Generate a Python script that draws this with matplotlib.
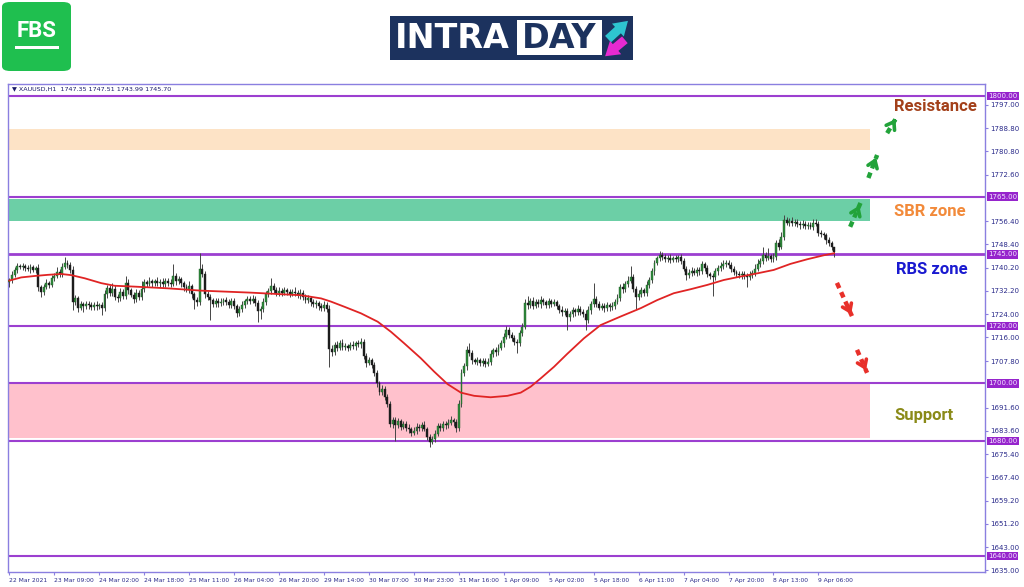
import matplotlib
matplotlib.use("Agg")
import matplotlib.pyplot as plt
from matplotlib.patches import FancyBboxPatch, Rectangle, FancyArrowPatch
import numpy as np

# XAUUSD H1 closes (oldest first)
close = [
    1736.0, 1737.8, 1739.5, 1741.0, 1740.6, 1740.9, 1740.2, 1739.8, 1740.4, 1739.6,
    1740.1, 1733.5, 1731.8, 1733.6, 1735.0, 1734.4, 1736.8, 1737.5, 1738.9, 1738.2,
    1740.6, 1742.0, 1741.2, 1739.5, 1728.5, 1729.8, 1726.4, 1727.5, 1726.9, 1727.8,
    1727.2, 1726.6, 1727.4, 1726.8, 1727.3, 1726.2, 1731.0, 1733.2, 1731.5, 1733.0,
    1730.2, 1729.6, 1731.8, 1730.5, 1735.0, 1732.4, 1730.8, 1729.5, 1731.6, 1730.0,
    1732.8, 1735.2, 1734.6, 1735.5, 1734.8, 1735.7, 1734.9, 1735.4, 1734.5, 1735.8,
    1735.1, 1734.7, 1737.4, 1735.6, 1736.2, 1734.8, 1733.5, 1732.6, 1733.8, 1731.0,
    1729.0, 1728.5, 1740.0, 1738.0, 1731.0, 1730.2, 1729.0, 1727.5, 1728.6, 1727.9,
    1728.3, 1729.0, 1728.2, 1727.4, 1728.8, 1727.0, 1724.5, 1725.8, 1727.4, 1728.6,
    1729.3, 1728.7, 1729.5, 1728.0, 1725.2, 1726.0, 1728.4, 1731.0, 1732.2, 1734.0,
    1732.5, 1731.4, 1732.2, 1731.6, 1732.4, 1731.8, 1731.2, 1732.0, 1731.5, 1730.8,
    1731.6, 1730.2, 1729.0, 1729.6, 1728.3, 1727.5, 1727.9, 1726.8, 1726.2, 1727.4,
    1726.0, 1712.0, 1711.0, 1713.5, 1712.4, 1714.2, 1712.8, 1713.0, 1712.5, 1713.4,
    1712.9, 1714.0, 1713.6, 1714.5, 1709.5, 1707.2, 1708.0, 1706.5, 1703.5, 1700.0,
    1697.0, 1698.2, 1695.4, 1693.0, 1686.0, 1687.2, 1685.5, 1686.8, 1685.0, 1685.8,
    1684.6, 1684.0, 1682.8, 1683.6, 1685.0, 1684.4, 1685.6, 1684.2, 1681.5, 1679.8,
    1680.6, 1682.5, 1685.2, 1684.6, 1686.0, 1685.4, 1686.4, 1687.2, 1686.5, 1684.5,
    1693.0, 1703.6, 1706.0, 1711.7, 1710.5, 1708.2, 1707.5, 1708.0, 1707.2, 1707.8,
    1706.9, 1707.5, 1710.2, 1711.6, 1710.8, 1712.5, 1714.0, 1716.2, 1718.6, 1717.0,
    1715.8, 1714.5, 1714.0, 1717.5, 1719.7, 1728.0, 1727.2, 1728.8, 1727.0, 1728.4,
    1727.6, 1729.0, 1728.2, 1727.4, 1728.6, 1727.8, 1728.2, 1727.0, 1725.6, 1724.8,
    1725.2, 1723.0, 1724.2, 1725.4, 1724.8, 1726.0, 1725.0, 1724.3, 1722.0, 1725.4,
    1727.6, 1729.5, 1727.8, 1726.4, 1726.9, 1726.1, 1727.2, 1726.5, 1727.0, 1728.4,
    1729.6, 1733.6, 1732.8, 1734.5, 1735.8, 1737.0, 1733.0, 1730.0, 1731.2, 1732.4,
    1731.6, 1734.2, 1736.0, 1739.0, 1742.0, 1743.5, 1744.7, 1744.0, 1743.2, 1743.8,
    1743.0, 1743.6, 1743.2, 1743.9, 1742.6, 1740.0, 1737.7, 1738.6, 1739.2, 1738.5,
    1739.4, 1739.0, 1741.5, 1740.2, 1738.0, 1737.4, 1737.0, 1739.0, 1740.2, 1741.0,
    1741.5, 1742.0, 1741.2, 1740.0, 1738.8, 1738.0, 1737.6, 1738.2, 1737.4, 1737.0,
    1737.8, 1738.5, 1740.0, 1741.6, 1742.5, 1744.6, 1743.8, 1744.2, 1743.4, 1744.0,
    1748.8, 1747.6, 1751.0, 1756.8, 1756.0, 1756.6, 1755.8, 1756.2, 1755.4, 1755.0,
    1755.6, 1754.8, 1755.2, 1754.6, 1756.0, 1755.6, 1752.5, 1752.0, 1751.5, 1750.0,
    1748.8, 1747.35, 1745.70,
]
first_open = 1735.2

# wick above max(open, close) and below min(open, close)
wick_up = [
    0.8, 1.2, 0.9, 1.0, 0.7, 1.1, 0.6, 0.9, 1.3, 0.8,
    0.9, 1.5, 0.7, 1.0, 1.4, 0.8, 1.1, 0.9, 1.6, 1.0,
    1.2, 2.0, 1.1, 0.9, 1.4, 1.0, 0.8, 1.3, 0.7, 1.0,
    0.9, 1.1, 0.8, 1.2, 0.7, 1.0, 1.6, 1.2, 0.9, 2.0,
    1.1, 0.8, 1.3, 1.0, 2.5, 1.2, 0.9, 1.1, 1.4, 0.8,
    3.0, 1.2, 0.9, 1.4, 1.0, 0.8, 1.2, 0.9, 1.3, 1.0,
    0.9, 1.2, 4.0, 1.1, 1.3, 0.9, 1.0, 1.2, 2.0, 0.8,
    1.0, 1.1, 5.4, 1.4, 1.0, 1.2, 0.8, 0.9, 1.1, 1.0,
    1.3, 0.8, 1.0, 1.2, 0.9, 1.1, 0.8, 1.0, 1.3, 0.9,
    1.2, 1.0, 1.4, 0.8, 0.9, 1.1, 1.3, 1.2, 1.0, 2.7,
    1.1, 0.9, 1.3, 1.0, 1.2, 0.8, 1.1, 0.9, 1.4, 1.0,
    1.2, 0.9, 1.1, 1.3, 0.8, 1.0, 1.2, 0.9, 1.1, 1.4,
    1.0, 1.2, 1.5, 1.1, 1.4, 0.9, 1.2, 1.0, 0.8, 1.1,
    1.3, 0.9, 1.0, 1.2, 0.8, 1.1, 1.3, 0.9, 1.0, 1.2,
    0.9, 1.4, 1.0, 1.1, 0.8, 1.3, 1.0, 1.2, 0.9, 1.1,
    1.0, 1.2, 0.8, 1.1, 1.3, 0.9, 1.0, 1.2, 0.8, 1.0,
    1.1, 1.3, 0.9, 1.2, 1.0, 0.8, 1.1, 1.4, 0.9, 1.0,
    1.2, 1.5, 1.0, 1.3, 2.3, 1.0, 0.8, 1.2, 0.9, 1.1,
    1.0, 1.2, 1.4, 0.9, 1.1, 1.3, 1.0, 1.2, 1.4, 1.0,
    0.9, 1.1, 1.0, 1.2, 1.3, 1.5, 2.5, 1.0, 1.2, 0.9,
    1.1, 1.3, 0.8, 1.0, 1.2, 0.9, 1.1, 1.0, 0.8, 1.2,
    1.0, 0.9, 1.1, 1.3, 0.8, 1.2, 1.0, 0.9, 1.1, 1.4,
    1.2, 5.5, 1.0, 0.8, 1.1, 1.0, 1.3, 0.9, 1.2, 1.0,
    1.4, 1.1, 1.3, 1.0, 1.5, 4.0, 1.0, 0.9, 1.2, 1.1,
    0.8, 1.3, 1.0, 1.2, 1.1, 1.0, 1.3, 0.9, 1.1, 1.0,
    1.2, 0.8, 1.1, 0.9, 1.0, 1.2, 0.9, 1.1, 1.3, 1.0,
    1.2, 1.0, 1.0, 0.9, 1.1, 0.8, 1.0, 1.2, 1.1, 1.3,
    1.5, 1.0, 0.9, 1.1, 1.0, 0.8, 1.2, 0.9, 1.0, 1.1,
    1.2, 1.0, 1.4, 1.6, 1.3, 3.0, 1.2, 2.8, 1.0, 1.5,
    1.2, 1.4, 1.6, 1.7, 1.2, 1.0, 1.3, 0.9, 1.1, 1.0,
    1.2, 0.9, 1.1, 1.0, 1.3, 1.1, 0.9, 1.0, 0.8, 0.9,
    1.0, 0.7, 0.16,
]
wick_dn = [
    1.5, 1.0, 0.8, 1.2, 0.9, 1.1, 1.0, 0.8, 1.2, 0.9,
    1.0, 1.3, 1.6, 1.0, 0.9, 1.2, 0.8, 1.1, 0.9, 1.0,
    1.1, 0.8, 1.0, 1.2, 3.0, 1.1, 1.4, 0.9, 2.0, 1.0,
    1.2, 0.9, 1.1, 1.3, 0.8, 2.5, 1.0, 1.2, 0.9, 1.1,
    1.0, 1.3, 0.9, 1.1, 1.0, 1.2, 0.8, 1.4, 1.0, 1.1,
    0.9, 1.0, 1.2, 0.8, 1.1, 1.0, 0.9, 1.2, 1.0, 0.8,
    1.1, 1.0, 0.9, 1.2, 1.0, 1.1, 1.3, 0.9, 1.0, 1.2,
    3.0, 1.4, 1.2, 1.0, 1.3, 1.1, 7.0, 1.0, 0.9, 1.2,
    1.0, 1.1, 0.9, 1.3, 1.0, 1.2, 1.5, 1.0, 0.9, 1.1,
    1.0, 1.2, 0.8, 1.1, 3.8, 2.6, 1.0, 1.2, 0.9, 1.0,
    1.1, 0.9, 1.0, 1.2, 0.8, 1.0, 1.1, 0.9, 1.2, 1.0,
    1.3, 1.1, 1.0, 0.9, 1.2, 1.0, 1.1, 1.3, 1.0, 0.9,
    1.2, 6.3, 1.5, 1.0, 1.2, 0.9, 1.1, 1.0, 1.3, 0.9,
    1.0, 1.2, 0.9, 1.1, 1.0, 1.3, 0.9, 1.2, 1.0, 1.4,
    1.1, 1.0, 1.3, 1.2, 1.0, 1.4, 5.5, 1.0, 1.2, 0.9,
    1.1, 1.3, 1.0, 0.9, 1.2, 1.0, 1.1, 0.9, 1.3, 1.8,
    1.0, 1.1, 0.9, 1.2, 1.0, 1.1, 0.9, 1.0, 1.2, 1.3,
    1.0, 1.1, 0.9, 1.2, 1.0, 1.3, 0.9, 1.1, 1.0, 1.2,
    1.0, 0.9, 1.2, 1.0, 1.1, 0.8, 1.0, 1.2, 0.9, 1.1,
    1.0, 1.2, 3.4, 1.0, 1.1, 0.9, 1.2, 1.0, 1.1, 0.9,
    1.0, 1.2, 0.9, 1.1, 1.0, 1.2, 0.8, 1.0, 1.1, 1.3,
    1.0, 4.5, 1.1, 0.9, 1.2, 1.0, 1.1, 1.3, 3.5, 1.0,
    1.1, 1.0, 1.2, 0.9, 1.0, 1.1, 0.9, 1.2, 1.0, 1.1,
    0.9, 1.0, 1.2, 1.0, 1.1, 0.9, 1.2, 4.0, 1.0, 1.1,
    1.0, 1.2, 0.9, 1.0, 1.1, 0.8, 1.0, 1.2, 0.9, 1.1,
    1.0, 0.9, 1.1, 1.0, 1.2, 1.0, 1.7, 1.0, 1.1, 0.9,
    1.0, 1.2, 0.9, 1.1, 1.0, 1.2, 6.6, 1.0, 1.1, 0.9,
    1.0, 1.1, 0.9, 1.2, 1.0, 1.1, 0.9, 1.2, 1.0, 3.5,
    1.0, 1.1, 1.2, 0.9, 1.0, 1.1, 1.2, 1.0, 1.3, 1.1,
    1.0, 1.2, 0.9, 1.1, 1.0, 1.2, 0.9, 1.1, 1.0, 1.2,
    0.9, 1.0, 1.1, 1.0, 1.2, 0.9, 1.1, 1.0, 1.2, 1.3,
    1.1, 1.0, 1.71,
]

# red moving average, sampled along the curve (candle index, price)
ma_idx = [0, 4.5, 9.6, 14.6, 19.6, 23.4, 28.5, 34.8, 39.8, 47.3, 60, 72.5,
          91.4, 110.3, 117.9, 121.6, 126.7, 133, 139.3, 144.3, 149.3, 155.6,
          160.7, 165.7, 170.8, 175.8, 182, 188.4, 193.4, 197.2, 201, 206, 211,
          217.3, 223.6, 231.2, 238.8, 245, 251.3, 257.7, 264, 270.2, 276.5,
          282.8, 289.1, 295.4, 301.7, 308, 311.9]
ma_val = [1735.8, 1736.9, 1737.4, 1737.8, 1738.1, 1737.7, 1736.6, 1734.9,
          1734.0, 1733.7, 1733.1, 1732.3, 1731.6, 1730.7, 1729.6, 1728.5,
          1726.7, 1724.4, 1721.5, 1718.0, 1714.0, 1708.8, 1704.1, 1699.8,
          1696.8, 1695.7, 1695.2, 1695.7, 1696.8, 1698.9, 1701.8, 1705.8,
          1710.3, 1715.7, 1720.3, 1723.3, 1726.2, 1729.0, 1731.4, 1732.8,
          1734.3, 1736.0, 1737.2, 1738.3, 1739.5, 1741.6, 1743.2, 1744.6,
          1745.3]

levels = [1800.0, 1765.0, 1745.0, 1720.0, 1700.0, 1680.0, 1640.0]
zone_lo = [1781.2, 1756.5, 1681.0]
zone_hi = [1788.5, 1764.2, 1700.2]
zone_col = ['#fde3c6', '#6ccfa6', '#ffc1cc']

ytick_vals = [1797.00, 1788.80, 1780.80, 1772.60, 1756.40, 1748.40, 1740.20,
              1732.20, 1724.00, 1716.00, 1707.80, 1691.60, 1683.60, 1675.40,
              1667.40, 1659.20, 1651.20, 1643.00, 1635.00]
xtick_labels = ['22 Mar 2021', '23 Mar 09:00', '24 Mar 02:00', '24 Mar 18:00',
                '25 Mar 11:00', '26 Mar 04:00', '26 Mar 20:00', '29 Mar 14:00',
                '30 Mar 07:00', '30 Mar 23:00', '31 Mar 16:00', '1 Apr 09:00',
                '5 Apr 02:00', '5 Apr 18:00', '6 Apr 11:00', '7 Apr 04:00',
                '7 Apr 20:00', '8 Apr 13:00', '9 Apr 06:00']
xtick_step = 17

W, H = 1024, 587
fig = plt.figure(figsize=(W / 100, H / 100), dpi=100)
fig.patch.set_facecolor('white')

def fx(x):
    return x / W

def fy(y):
    return 1 - y / H

ax = fig.add_axes([fx(8), fy(572), (985 - 8) / W, (572 - 84) / H])
ax.set_xlim(-0.5, 369)
ax.set_ylim(1634.4, 1804.2)

frame_col = '#8a7fe0'
for s in ax.spines.values():
    s.set_color(frame_col)
    s.set_linewidth(1.0)

# zones
for lo, hi, c in zip(zone_lo, zone_hi, zone_col):
    ax.axhspan(lo, hi, xmin=0, xmax=0.882, color=c, lw=0, zorder=0)

# horizontal levels
for lv in levels:
    ax.axhline(lv, color='#9c3fd0', lw=2.0 if lv == 1745.0 else 1.5, zorder=1)

# candles
n = len(close)
idx = np.arange(n)
c = np.array(close)
o = np.array([first_open] + close[:-1])
top = np.maximum(o, c)
bot = np.minimum(o, c)
hi = top + np.array(wick_up)
lo = bot - np.array(wick_dn)
up = c >= o
ax.vlines(idx, lo, hi, color='#454545', lw=0.7, zorder=3)
body = np.maximum(top - bot, 0.3)
ax.bar(idx[up], body[up], bottom=bot[up], width=0.72, color='#2f8a3c',
       edgecolor='#1e5a26', lw=0.3, zorder=4)
ax.bar(idx[~up], body[~up], bottom=bot[~up], width=0.72, color='#1c1c1c',
       edgecolor='#1c1c1c', lw=0.3, zorder=4)

# moving average
ax.plot(ma_idx, ma_val, color='#e02424', lw=1.3, zorder=5)

# axes ticks
ax.yaxis.tick_right()
ax.set_yticks(ytick_vals)
ax.set_yticklabels(['%.2f' % v for v in ytick_vals])
ax.tick_params(axis='y', length=2, pad=1.5, labelsize=5, colors=frame_col,
               labelcolor='#2a2a8a')
ax.set_xticks(np.arange(len(xtick_labels)) * xtick_step)
ax.set_xticklabels(xtick_labels, ha='left')
ax.tick_params(axis='x', length=2, pad=2, labelsize=4.3, colors=frame_col,
               labelcolor='#2a2a8a')

# price boxes on the right
for lv in levels:
    ax.text(1.003, lv, '%.2f' % lv, transform=ax.get_yaxis_transform(),
            ha='left', va='center', fontsize=5, color='#f3e6ff', zorder=6,
            bbox=dict(boxstyle='square,pad=0.2', fc='#9624cc', ec='none'),
            clip_on=False)

# header line
ax.axhline(1800 + 8.3 / 2.875 + 1.2, color=frame_col, lw=0.6, xmin=0, xmax=1)
ax.text(0.004, 0.9898, '\u25BC XAUUSD,H1  1747.35 1747.51 1743.99 1745.70',
        transform=ax.transAxes, fontsize=4.6, color='#1a1a6a', va='center')

# zone names
ax.text(350.2, 1796.5, 'Resistance', color='#a3401a', fontsize=12,
        family='Roboto', weight='bold', ha='center', va='center')
ax.text(348.3, 1760.0, 'SBR zone', color='#f28a3a', fontsize=12,
        family='Roboto', weight='bold', ha='center', va='center')
ax.text(349.0, 1739.8, 'RBS zone', color='#1a1ad0', fontsize=12,
        family='Roboto', weight='bold', ha='center', va='center')
ax.text(346.0, 1689.0, 'Support', color='#8a8a18', fontsize=12,
        family='Roboto', weight='bold', ha='center', va='center')

# dashed direction arrows
def dash_arrow(x0, y0, x1, y1, col):
    ax.plot([x0, x1], [y0, y1], color=col, lw=3.2, ls=(0, (1.3, 1.0)),
            solid_capstyle='butt', zorder=6)
    ax.annotate('', xy=(x1, y1), xytext=(x0 + (x1 - x0) * 0.6, y0 + (y1 - y0) * 0.6),
                arrowprops=dict(arrowstyle='->,head_length=0.5,head_width=0.35',
                                color=col, lw=2.6), zorder=6)

green = '#22a33a'
red = '#e8302a'
dash_arrow(318.0, 1754.5, 321.9, 1762.8, green)
dash_arrow(324.9, 1771.5, 328.2, 1779.5, green)
dash_arrow(332.0, 1787.1, 335.7, 1792.8, green)
dash_arrow(313.0, 1735.0, 318.8, 1723.2, red)
dash_arrow(320.6, 1711.7, 324.4, 1703.7, red)

# FBS logo
fig.patches.append(FancyBboxPatch((fx(2), fy(71)), fx(69), 69 / H,
                                  boxstyle='round,pad=0,rounding_size=0.008',
                                  transform=fig.transFigure, fc='#1fbf4f', ec='none'))
fig.text(fx(37), fy(31), 'FBS', color='white', fontsize=16, weight='bold',
         family='Roboto', ha='center', va='center')
fig.patches.append(Rectangle((fx(15), fy(49)), fx(44), 3 / H,
                             transform=fig.transFigure, fc='white', ec='none'))

# INTRADAY logo
fig.patches.append(Rectangle((fx(390), fy(60)), fx(243), 44 / H,
                             transform=fig.transFigure, fc='#1c325e', ec='none'))
fig.text(fx(395), fy(38.5), 'INTRA', color='white', fontsize=24, weight='bold',
         family='DejaVu Sans', ha='left', va='center')
fig.patches.append(Rectangle((fx(517), fy(55)), fx(85), 35 / H,
                             transform=fig.transFigure, fc='white', ec='none'))
fig.text(fx(559.5), fy(38.5), 'DAY', color='#1c325e', fontsize=24, weight='bold',
         family='DejaVu Sans', ha='center', va='center')
fig.patches.append(FancyArrowPatch((fx(606), fy(41)), (fx(630), fy(19)),
                                   transform=fig.transFigure,
                                   arrowstyle='simple,head_length=0.7,head_width=0.9,tail_width=0.45',
                                   mutation_scale=14, fc='#2ec4d0', ec='none'))
fig.patches.append(FancyArrowPatch((fx(627), fy(38)), (fx(603), fy(58)),
                                   transform=fig.transFigure,
                                   arrowstyle='simple,head_length=0.7,head_width=0.9,tail_width=0.45',
                                   mutation_scale=14, fc='#e62ad0', ec='none'))

fig.savefig('out.png', dpi=100, facecolor='white')
